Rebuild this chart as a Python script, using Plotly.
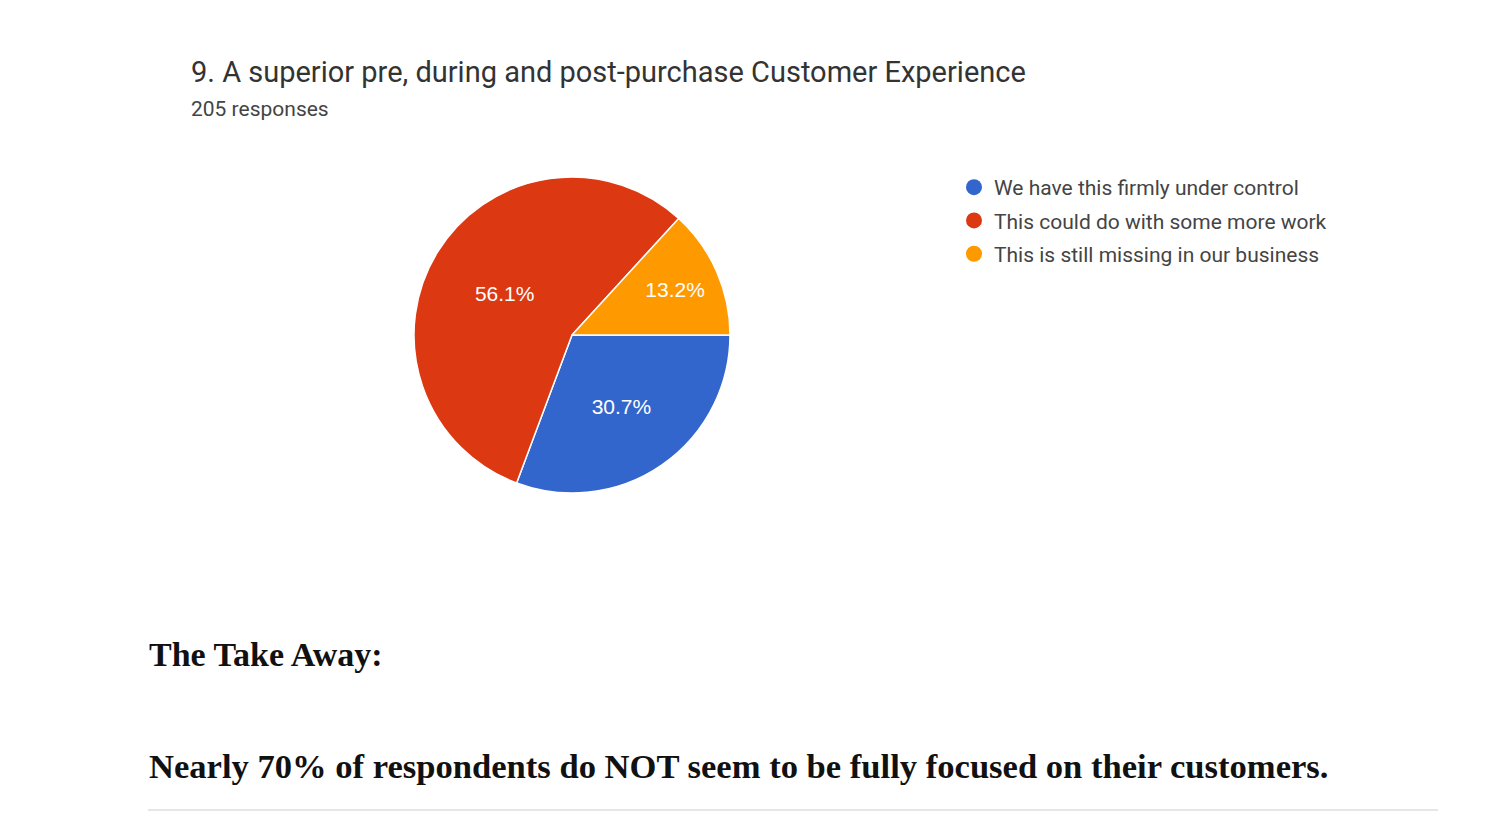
import plotly.graph_objects as go

labels = ["We have this firmly under control",
          "This could do with some more work",
          "This is still missing in our business"]
values = [30.7, 56.1, 13.2]
colors = ["#3366cc", "#dc3912", "#ff9900"]

title_text = "9. A superior pre, during and post-purchase Customer Experience"
subtitle_text = "205 responses"
takeaway_head = "The Take Away:"
takeaway_body = "Nearly 70% of respondents do NOT seem to be fully focused on their customers."

W, H = 1500, 819
OFF = 8  # page offset observed in rendering
cx, cy, r = 572 - OFF, 335 - OFF, 158


def px(x):
    return (x - OFF) / W


def py(y):
    return 1 - (y - OFF) / H


fig = go.Figure()
fig.add_trace(go.Pie(
    labels=labels, values=values, sort=False, direction="clockwise", rotation=90,
    marker=dict(colors=colors, line=dict(color="white", width=1.5)),
    texttemplate="%{value:.1f}%", textposition="inside",
    insidetextorientation="horizontal",
    textfont=dict(family="Liberation Sans, Arial", size=21, color="white"),
    showlegend=False, hoverinfo="label+percent",
    domain=dict(x=[(cx - r) / W, (cx + r) / W], y=[1 - (cy + r) / H, 1 - (cy - r) / H]),
))

for i, (lab, col) in enumerate(zip(labels, colors)):
    fig.add_trace(go.Scatter(
        x=[None], y=[None], mode="markers", name=lab, legendgroup=f"g{i}",
        marker=dict(symbol="circle", size=20, color=col),
    ))

fig.update_layout(
    width=W, height=H, margin=dict(l=0, r=0, t=0, b=0),
    paper_bgcolor="white", plot_bgcolor="white",
    xaxis=dict(visible=False), yaxis=dict(visible=False),
    showlegend=True,
    legend=dict(x=px(954), y=py(167), xanchor="left", yanchor="top",
                font=dict(family="Roboto, Arial", size=21, color="#444444"),
                tracegroupgap=3, bgcolor="rgba(0,0,0,0)"),
    annotations=[
        dict(text=title_text, x=px(189), y=py(72), xref="paper", yref="paper",
             xanchor="left", yanchor="middle", showarrow=False,
             font=dict(family="Roboto, Arial", size=29, color="#333333")),
        dict(text=subtitle_text, x=px(189), y=py(109), xref="paper", yref="paper",
             xanchor="left", yanchor="middle", showarrow=False,
             font=dict(family="Roboto, Arial", size=21, color="#444444")),
        dict(text="<b>" + takeaway_head + "</b>", x=px(147), y=py(654), xref="paper", yref="paper",
             xanchor="left", yanchor="middle", showarrow=False,
             font=dict(family="Liberation Serif, Times New Roman", size=34, color="#111111")),
        dict(text="<b>" + takeaway_body + "</b>", x=px(147), y=py(766), xref="paper", yref="paper",
             xanchor="left", yanchor="middle", showarrow=False,
             font=dict(family="Liberation Serif, Times New Roman", size=34.6, color="#111111")),
    ],
    shapes=[dict(type="line", xref="paper", yref="paper", x0=px(148), x1=px(1438),
                 y0=py(810), y1=py(810), line=dict(color="#e6e6e6", width=2))],
)

fig.write_html("out.html")
